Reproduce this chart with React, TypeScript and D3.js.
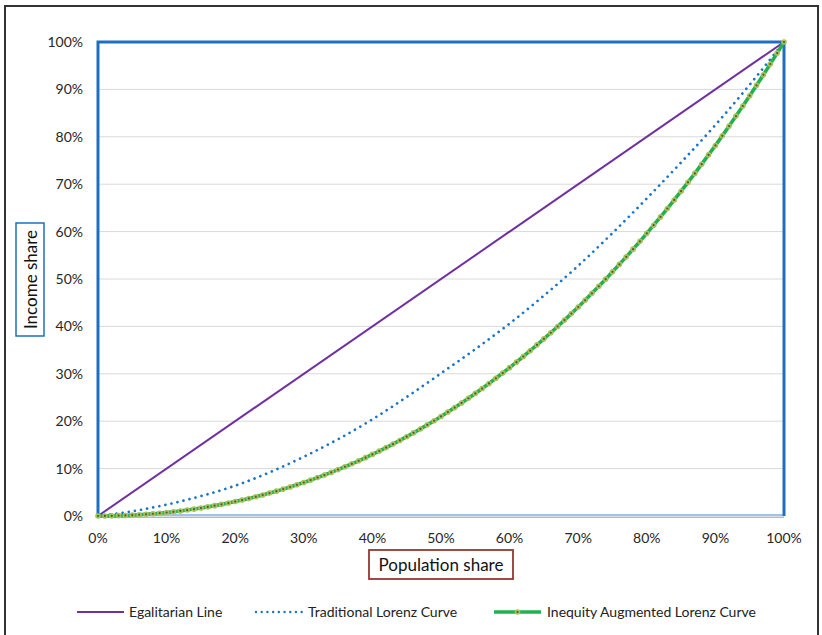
import * as d3 from 'd3';

// population share (%) at which each series was sampled
const greenPop = d3.range(0, 101, 1);
const bluePop = d3.range(0, 101, 5);
const egalPop = [0, 100];

const egalitarian = [0, 100];

const traditional = [
  0, 1.0, 2.4, 4.2, 6.4, 9.2, 12.5, 16.2, 20.4, 25.1, 30.1,
  35.2, 40.6, 46.5, 52.8, 59.7, 67.0, 74.6, 82.5, 91.0, 100,
];

const augmented = [
  0, 0.01, 0.03, 0.07, 0.12, 0.18, 0.26, 0.36, 0.47, 0.59, 0.74,
  0.89, 1.07, 1.26, 1.46, 1.68, 1.92, 2.18, 2.45, 2.73, 3.04,
  3.36, 3.7, 4.06, 4.44, 4.83, 5.24, 5.67, 6.12, 6.58, 7.07,
  7.57, 8.1, 8.64, 9.2, 9.79, 10.39, 11.01, 11.65, 12.31, 13.0,
  13.7, 14.43, 15.17, 15.94, 16.73, 17.54, 18.37, 19.23, 20.1, 21.0,
  21.93, 22.87, 23.85, 24.84, 25.86, 26.89, 27.96, 29.05, 30.16, 31.3,
  32.46, 33.65, 34.87, 36.11, 37.37, 38.66, 39.98, 41.33, 42.7, 44.09,
  45.52, 46.98, 48.46, 49.97, 51.51, 53.08, 54.67, 56.3, 57.95, 59.63,
  61.35, 63.1, 64.87, 66.68, 68.52, 70.39, 72.28, 74.22, 76.18, 78.17,
  80.2, 82.27, 84.37, 86.5, 88.67, 90.86, 93.09, 95.36, 97.66, 100,
];

const ticks = [0, 10, 20, 30, 40, 50, 60, 70, 80, 90, 100];
const legendNames = ['Egalitarian Line', 'Traditional Lorenz Curve', 'Inequity Augmented Lorenz Curve'];

const FONT = 'Lato, "Noto Sans", sans-serif';

export default function App() {
  const x = d3.scaleLinear().domain([0, 100]).range([98, 784]);
  const y = d3.scaleLinear().domain([0, 100]).range([516, 42]);

  const line = d3
    .line<[number, number]>()
    .x((d) => x(d[0]))
    .y((d) => y(d[1]));
  const smooth = d3
    .line<[number, number]>()
    .x((d) => x(d[0]))
    .y((d) => y(d[1]))
    .curve(d3.curveMonotoneX);

  const egalPts = egalPop.map((p, i) => [p, egalitarian[i]] as [number, number]);
  const bluePts = bluePop.map((p, i) => [p, traditional[i]] as [number, number]);
  const greenPts = greenPop.map((p, i) => [p, augmented[i]] as [number, number]);

  const legendX = [
    { x0: 77, x1: 124, tx: 129 },
    { x0: 256, x1: 302, tx: 308 },
    { x0: 494, x1: 541, tx: 547 },
  ];
  const legendY = 612;

  return (
    <svg width={822} height={635} style={{ position: 'absolute', left: 0, top: 0, background: '#fff' }}>
      <rect x={5} y={6} width={813} height={660} fill="#fff" stroke="#333" strokeWidth={2} />

      {/* gridlines */}
      {ticks.slice(1, -1).map((t) => (
        <line key={t} x1={x(0)} x2={x(100)} y1={y(t)} y2={y(t)} stroke="#d9d9d9" strokeWidth={1} />
      ))}

      {/* x axis line */}
      <line x1={x(0)} x2={x(100)} y1={y(0) - 1} y2={y(0) - 1} stroke="#4f84c4" strokeWidth={1} />
      <line x1={x(0)} x2={x(100)} y1={y(0) + 1.2} y2={y(0) + 1.2} stroke="#8a9bb0" strokeWidth={1} />

      {/* plot frame */}
      <path
        d={`M${x(0)},${y(0)}V${y(100)}H${x(100)}V${y(0)}`}
        fill="none"
        stroke="#1f6fbf"
        strokeWidth={3}
      />

      {/* tick labels */}
      {ticks.map((t) => (
        <text key={'y' + t} x={83} y={y(t)} dy="0.35em" textAnchor="end" fontFamily={FONT} fontSize={14} fill="#262626">
          {t}%
        </text>
      ))}
      {ticks.map((t) => (
        <text key={'x' + t} x={x(t)} y={543} textAnchor="middle" fontFamily={FONT} fontSize={14} fill="#262626">
          {t}%
        </text>
      ))}

      {/* series */}
      <path d={line(egalPts) ?? ''} fill="none" stroke="#7030a0" strokeWidth={2} />
      <path
        d={smooth(bluePts) ?? ''}
        fill="none"
        stroke="#1c74c4"
        strokeWidth={2.7}
        strokeDasharray="0.01 6.2"
        strokeLinecap="round"
      />
      <path d={line(greenPts) ?? ''} fill="none" stroke="#22b14c" strokeWidth={3.6} />
      {greenPts.map((d, i) => (
        <g key={i}>
          <circle cx={x(d[0])} cy={y(d[1])} r={2.8} fill="#a6c25a" />
          <circle cx={x(d[0])} cy={y(d[1])} r={1.1} fill="#4e5a2c" />
        </g>
      ))}

      {/* axis titles */}
      <rect x={16} y={223} width={28} height={113} fill="#fff" stroke="#1f6fbf" strokeWidth={1.5} />
      <text
        transform={`translate(31,${279.5}) rotate(-90)`}
        textAnchor="middle"
        dy="0.35em"
        fontFamily={FONT}
        fontSize={17}
        fill="#111"
      >
        Income share
      </text>
      <rect x={369} y={550} width={144} height={29} fill="#fff" stroke="#953735" strokeWidth={1.8} />
      <text x={441} y={565} dy="0.35em" textAnchor="middle" fontFamily={FONT} fontSize={17} fill="#111">
        Population share
      </text>

      {/* legend */}
      <line x1={legendX[0].x0} x2={legendX[0].x1} y1={legendY} y2={legendY} stroke="#7030a0" strokeWidth={2} />
      <line
        x1={legendX[1].x0}
        x2={legendX[1].x1}
        y1={legendY}
        y2={legendY}
        stroke="#1c74c4"
        strokeWidth={2.4}
        strokeDasharray="0.01 5.7"
        strokeLinecap="round"
      />
      <line x1={legendX[2].x0} x2={legendX[2].x1} y1={legendY} y2={legendY} stroke="#22b14c" strokeWidth={3.6} />
      <circle cx={(legendX[2].x0 + legendX[2].x1) / 2} cy={legendY} r={2.8} fill="#a6c25a" />
      <circle cx={(legendX[2].x0 + legendX[2].x1) / 2} cy={legendY} r={1.1} fill="#4e5a2c" />
      {legendNames.map((n, i) => (
        <text key={n} x={legendX[i].tx} y={legendY} dy="0.35em" fontFamily={FONT} fontSize={14} fill="#222">
          {n}
        </text>
      ))}
    </svg>
  );
}
